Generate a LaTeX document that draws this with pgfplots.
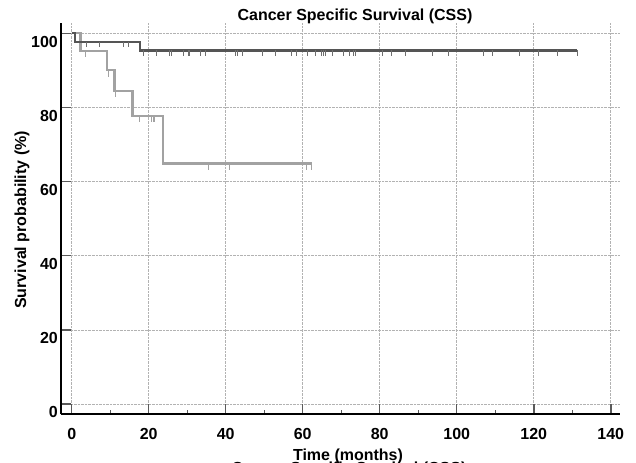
\documentclass[border=0pt]{standalone}
\usepackage{fontspec}
\setmainfont{Liberation Sans}
\usepackage{pgfplots}
\pgfplotsset{compat=1.18}

% censor mark: short stroke hanging below the curve
\pgfdeclareplotmark{cens}{%
  \pgfpathmoveto{\pgfpointorigin}%
  \pgfpathlineto{\pgfpoint{0pt}{-\pgfplotmarksize}}%
  \pgfusepathqstroke}

\definecolor{darkline}{HTML}{555555}
\definecolor{lightline}{HTML}{A2A2A2}
\newcommand{\lbl}{\bfseries\fontsize{16bp}{19bp}\selectfont}

\begin{document}
\begin{tikzpicture}
\useasboundingbox (-61bp,-49bp) rectangle (575bp,414bp);
\begin{axis}[
    at={(0,0)}, anchor=south west,
    scale only axis,
    width=559bp, height=391bp,
    xmin=-2.78, xmax=142.4,
    ymin=-2.7, ymax=102.8,
    xtick={0,20,...,140},
    ytick={0,20,...,100},
    minor x tick num=1,
    axis x line=bottom, axis y line=left,
    axis line style={-, line width=1.8bp, black},
    tick align=inside,
    major tick length=10bp, minor tick length=4bp,
    major tick style={line width=1.5bp, black!65},
    minor tick style={line width=0.9bp, black!65},
    grid=major,
    major grid style={densely dotted, line width=0.6bp, black!30},
    /pgf/number format/assume math mode=true,
    ticklabel style={font=\lbl},
    xticklabel style={inner sep=0pt, yshift=-14bp},
    yticklabel style={anchor=north east, inner sep=0pt, xshift=-3bp, yshift=-2.5bp},
    clip=false,
]
% group 2 (light)
\addplot[const plot, lightline, line width=2.2bp, mark=none] coordinates {
 (0,100) (2.3,95.3) (9.1,90.1) (11.1,84.5) (15.8,77.8) (23.8,64.9) (62.3,64.9)};
\addplot[only marks, mark=cens, mark size=6.5bp, lightline, line width=1bp] coordinates {
 (3.5,95.3) (9.5,90.1) (11.5,84.5) (17.6,77.8) (20.8,77.8) (21.2,77.8) (21.6,77.8)
 (35.5,64.9) (40.9,64.9) (60.9,64.9) (62.3,64.9)};
% group 1 (dark)
\addplot[const plot, darkline, line width=2.2bp, mark=none] coordinates {
 (0,100) (0.9,97.7) (17.7,95.4) (131.3,95.4)};
\addplot[only marks, mark=cens, mark size=5.5bp, darkline!85!white, line width=1bp] coordinates {
 (3.9,97.7) (7.1,97.7) (13.4,97.7) (14.7,97.7)
 (18.6,95.4) (22.1,95.4) (25.4,95.4) (25.8,95.4) (29.0,95.4) (30.3,95.4) (30.6,95.4)
 (33.5,95.4) (34.8,95.4) (42.6,95.4) (43.1,95.4) (44.4,95.4) (49.6,95.4) (52.8,95.4)
 (57.1,95.4) (58.3,95.4) (61.2,95.4) (63.4,95.4) (64.9,95.4) (65.3,95.4) (65.9,95.4)
 (67.8,95.4) (70.5,95.4) (72.1,95.4) (73.3,95.4) (73.8,95.4) (80.8,95.4) (83.1,95.4)
 (86.8,95.4) (93.7,95.4) (97.8,95.4) (106.9,95.4) (109.2,95.4) (116.2,95.4)
 (121.2,95.4) (126.1,95.4) (131.3,95.4)};
\end{axis}
\node[anchor=north, inner sep=0pt, font=\lbl] at (294bp,405bp) {Cancer Specific Survival (CSS)};
\node[anchor=north, inner sep=0pt, font=\lbl] at (287bp,-35bp) {Time (months)};
\node[anchor=north, inner sep=0pt, font=\lbl] at (288bp,-47.5bp) {Cancer Specific Survival (CSS)};
\node[rotate=90, inner sep=0pt, font=\lbl] at (-39bp,194bp) {Survival probability (\%)};
\end{tikzpicture}
\end{document}
